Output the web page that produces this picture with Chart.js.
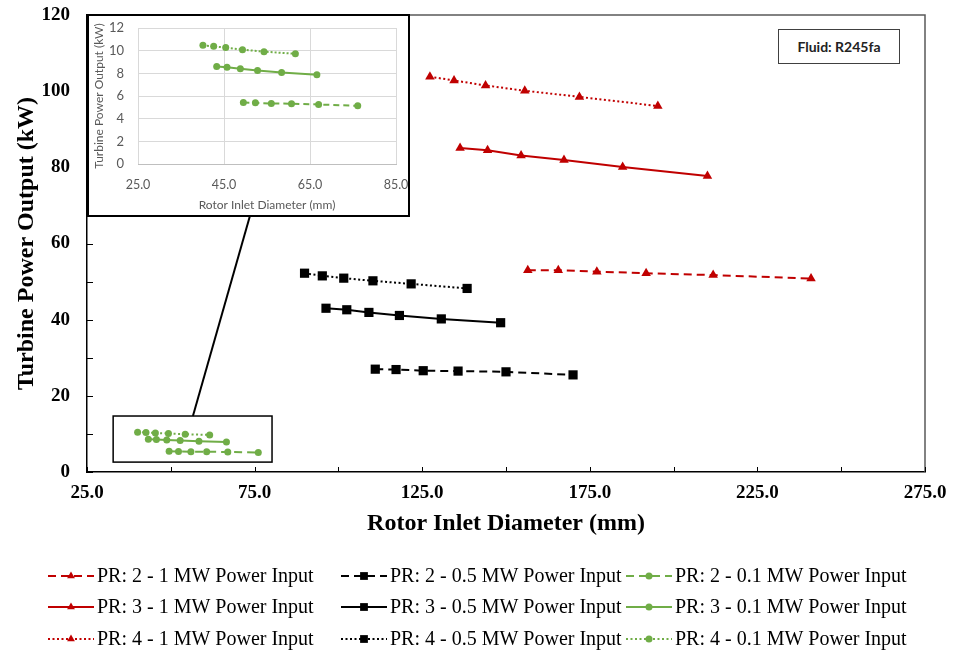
<!DOCTYPE html>
<html>
<head>
<meta charset="utf-8">
<script src="https://cdn.jsdelivr.net/npm/chart.js@4.4.1/dist/chart.umd.min.js"></script>
<style>
  body { margin: 0; background: #fff; }
  #wrap { position: relative; width: 955px; height: 655px; }
  #inset { position: absolute; left: 87px; top: 14px; width: 323px; height: 203px;
           box-sizing: border-box; border: 2px solid #000; background: #fff; }
  #fluid { position: absolute; left: 778px; top: 29px; width: 122px; height: 35px;
           box-sizing: border-box; border: 1.5px solid #404040; background: #fff;
           font: bold 14px Lato, "Open Sans", sans-serif; color: #222;
           display: flex; align-items: center; justify-content: center; }
</style>
</head>
<body>
<div id="wrap">
  <canvas id="mainChart" width="955" height="655"></canvas>
  <div id="inset"><canvas id="insetChart" width="319" height="199"></canvas></div>
  <div id="fluid">Fluid: R245fa</div>
</div>
<script>
// rotor inlet diameter (mm) and turbine power output (kW)
const diaPR2_1MW = [156.5, 165.6, 177.1, 191.8, 211.8, 241.0];
const powPR2_1MW = [53.0, 53.0, 52.6, 52.2, 51.7, 50.8];
const diaPR3_1MW = [136.3, 144.5, 154.5, 167.3, 184.8, 210.1];
const powPR3_1MW = [85.1, 84.5, 83.1, 81.9, 80.1, 77.7];
const diaPR4_1MW = [127.3, 134.5, 143.9, 155.6, 171.9, 195.3];
const powPR4_1MW = [103.8, 102.8, 101.5, 100.1, 98.5, 96.1];

const diaPR2_05MW = [111.0, 117.2, 125.3, 135.7, 150.0, 170.0];
const powPR2_05MW = [27.0, 26.9, 26.6, 26.5, 26.3, 25.5];
const diaPR3_05MW = [96.3, 102.5, 109.1, 118.2, 130.7, 148.4];
const powPR3_05MW = [43.0, 42.6, 41.9, 41.1, 40.2, 39.2];
const diaPR4_05MW = [89.9, 95.2, 101.6, 110.3, 121.7, 138.4];
const powPR4_05MW = [52.2, 51.5, 50.9, 50.2, 49.4, 48.2];

const diaPR2_01MW = [49.5, 52.3, 56.0, 60.7, 67.0, 76.1];
const powPR2_01MW = [5.43, 5.40, 5.34, 5.32, 5.25, 5.13];
const diaPR3_01MW = [43.3, 45.7, 48.8, 52.8, 58.4, 66.6];
const powPR3_01MW = [8.61, 8.53, 8.41, 8.26, 8.08, 7.88];
const diaPR4_01MW = [40.1, 42.6, 45.4, 49.3, 54.3, 61.6];
const powPR4_01MW = [10.47, 10.38, 10.27, 10.09, 9.91, 9.73];

const seriesLabels = [
  'PR: 2 - 1 MW Power Input', 'PR: 2 - 0.5 MW Power Input', 'PR: 2 - 0.1 MW Power Input',
  'PR: 3 - 1 MW Power Input', 'PR: 3 - 0.5 MW Power Input', 'PR: 3 - 0.1 MW Power Input',
  'PR: 4 - 1 MW Power Input', 'PR: 4 - 0.5 MW Power Input', 'PR: 4 - 0.1 MW Power Input'
];

// zoom box around the 0.1 MW cluster, and its leader line to the inset (data units)
const zoomBoxX = [32.8, 80.2];
const zoomBoxY = [2.6, 14.7];
const leaderX = [56.6, 73.6];
const leaderY = [14.7, 67.2];

const RED = '#C00000', BLACK = '#000000', GREEN = '#70AD47';
const DASH = [8, 5], DOT = [2, 2.5];

const pts = (xs, ys) => xs.map((x, i) => ({ x: x, y: ys[i] }));

function series(label, xs, ys, color, dash, shape, radius) {
    return {
        label: label,
        data: pts(xs, ys),
        showLine: true,
        borderColor: color,
        backgroundColor: color,
        borderWidth: 2,
        borderDash: dash,
        pointStyle: shape,
        pointRadius: radius,
        pointBackgroundColor: color,
        pointBorderColor: color,
        pointBorderWidth: 0
    };
}

const mainSets = [
    series(seriesLabels[0], diaPR2_1MW, powPR2_1MW, RED, DASH, 'triangle', 5.5),
    series(seriesLabels[1], diaPR2_05MW, powPR2_05MW, BLACK, DASH, 'rect', 6.5),
    series(seriesLabels[2], diaPR2_01MW, powPR2_01MW, GREEN, DASH, 'circle', 3.5),
    series(seriesLabels[3], diaPR3_1MW, powPR3_1MW, RED, [], 'triangle', 5.5),
    series(seriesLabels[4], diaPR3_05MW, powPR3_05MW, BLACK, [], 'rect', 6.5),
    series(seriesLabels[5], diaPR3_01MW, powPR3_01MW, GREEN, [], 'circle', 3.5),
    series(seriesLabels[6], diaPR4_1MW, powPR4_1MW, RED, DOT, 'triangle', 5.5),
    series(seriesLabels[7], diaPR4_05MW, powPR4_05MW, BLACK, DOT, 'rect', 6.5),
    series(seriesLabels[8], diaPR4_01MW, powPR4_01MW, GREEN, DOT, 'circle', 3.5)
];

function marker(ctx, shape, x, y, r, color) {
    ctx.save();
    ctx.fillStyle = color;
    ctx.setLineDash([]);
    ctx.beginPath();
    if (shape === 'triangle') {
        for (let k = 0; k < 3; k++) {
            const a = k * 2 * Math.PI / 3;
            const px = x + Math.sin(a) * r, py = y - Math.cos(a) * r;
            k === 0 ? ctx.moveTo(px, py) : ctx.lineTo(px, py);
        }
        ctx.closePath();
    } else if (shape === 'rect') {
        const s = r * Math.SQRT1_2;
        ctx.rect(x - s, y - s, 2 * s, 2 * s);
    } else {
        ctx.arc(x, y, r, 0, 2 * Math.PI);
    }
    ctx.fill();
    ctx.restore();
}

// the layout would otherwise reserve room for half a tick label plus padding
const noEdgePadding = s => { s.paddingTop = 0; s.paddingBottom = 0; s.paddingLeft = 0; s.paddingRight = 0; };

const extras = {
    id: 'extras',
    afterDraw(chart) {
        const { ctx, chartArea: a, scales: { x, y } } = chart;
        ctx.save();

        // plot area frame (top + right)
        ctx.strokeStyle = '#595959';
        ctx.lineWidth = 1.5;
        ctx.beginPath();
        ctx.moveTo(a.left, a.top);
        ctx.lineTo(a.right, a.top);
        ctx.lineTo(a.right, a.bottom);
        ctx.stroke();

        // tick marks pointing inwards
        ctx.strokeStyle = '#000';
        ctx.lineWidth = 1;
        x.ticks.forEach(t => {
            const px = Math.round(x.getPixelForValue(t.value)) + 0.5;
            ctx.beginPath();
            ctx.moveTo(px, a.bottom);
            ctx.lineTo(px, a.bottom - 5);
            ctx.stroke();
        });
        y.ticks.forEach(t => {
            const py = Math.round(y.getPixelForValue(t.value)) + 0.5;
            ctx.beginPath();
            ctx.moveTo(a.left, py);
            ctx.lineTo(a.left + 6, py);
            ctx.stroke();
        });

        // zoom box and leader line
        ctx.lineWidth = 1.5;
        const bx0 = x.getPixelForValue(zoomBoxX[0]), bx1 = x.getPixelForValue(zoomBoxX[1]);
        const by0 = y.getPixelForValue(zoomBoxY[1]), by1 = y.getPixelForValue(zoomBoxY[0]);
        ctx.strokeRect(bx0, by0, bx1 - bx0, by1 - by0);
        ctx.lineWidth = 2;
        ctx.beginPath();
        ctx.moveTo(x.getPixelForValue(leaderX[0]), y.getPixelForValue(leaderY[0]));
        ctx.lineTo(x.getPixelForValue(leaderX[1]), y.getPixelForValue(leaderY[1]));
        ctx.stroke();

        // legend, 3 columns x 3 rows
        const cols = [48, 341, 626], rows = [576, 607, 639];
        ctx.font = '20px "Liberation Serif", "Times New Roman", serif';
        ctx.textBaseline = 'middle';
        ctx.textAlign = 'left';
        chart.data.datasets.forEach((ds, i) => {
            const x0 = cols[i % 3], yy = rows[Math.floor(i / 3)];
            ctx.strokeStyle = ds.borderColor;
            ctx.lineWidth = 2;
            ctx.setLineDash(ds.borderDash);
            ctx.beginPath();
            ctx.moveTo(x0, yy);
            ctx.lineTo(x0 + 46, yy);
            ctx.stroke();
            const r = ds.pointStyle === 'circle' ? ds.pointRadius : ds.pointRadius - 1;
            marker(ctx, ds.pointStyle, x0 + 23, yy, r, ds.borderColor);
            ctx.fillStyle = '#000';
            ctx.fillText(ds.label, x0 + 49, yy + 1);
        });
        ctx.restore();
    }
};

const serif = '"Liberation Serif", "Times New Roman", serif';

new Chart(document.getElementById('mainChart'), {
    type: 'scatter',
    data: { datasets: mainSets },
    options: {
        responsive: false,
        animation: false,
        layout: { padding: { left: 0, right: 30, top: 15, bottom: 115 } },
        plugins: { legend: { display: false }, tooltip: { enabled: false } },
        scales: {
            x: {
                min: 25, max: 275,
                ticks: {
                    stepSize: 25, autoSkip: false, maxRotation: 0, padding: 10,
                    color: '#000', font: { family: serif, size: 19, weight: 'bold' },
                    callback: v => ((v - 25) % 50 === 0 ? v.toFixed(1) : '')
                },
                grid: { display: false, drawTicks: false },
                border: { color: '#000', width: 1.5 },
                title: {
                    display: true, text: 'Rotor Inlet Diameter (mm)', color: '#000',
                    font: { family: serif, size: 24, weight: 'bold' }, padding: { top: 0, bottom: 2 }
                },
                afterFit: s => { s.height = 68; noEdgePadding(s); }
            },
            y: {
                min: 0, max: 120,
                ticks: {
                    stepSize: 10, autoSkip: false, padding: 17,
                    color: '#000', font: { family: serif, size: 19, weight: 'bold' },
                    callback: v => (v % 20 === 0 ? v : '')
                },
                grid: { display: false, drawTicks: false },
                border: { color: '#000', width: 1.5 },
                title: {
                    display: true, text: 'Turbine Power Output (kW)', color: '#000',
                    font: { family: serif, size: 24, weight: 'bold' }, padding: { top: 12, bottom: 0 }
                },
                afterFit: s => { s.width = 87; noEdgePadding(s); }
            }
        }
    },
    plugins: [extras]
});

// inset: the 0.1 MW series on their own scale
const insetFont = 'Lato, "Open Sans", sans-serif';
const insetSets = [2, 5, 8].map(i => Object.assign({}, mainSets[i], {
    data: mainSets[i].data.map(p => ({ x: p.x, y: p.y })),
    pointRadius: 3.5,
    borderDash: mainSets[i].borderDash.length === 0 ? [] : (i === 2 ? [6, 4] : [2, 2])
}));

new Chart(document.getElementById('insetChart'), {
    type: 'scatter',
    data: { datasets: insetSets },
    options: {
        responsive: false,
        animation: false,
        layout: { padding: { left: 0, right: 12, top: 12, bottom: 0 } },
        plugins: { legend: { display: false }, tooltip: { enabled: false } },
        scales: {
            x: {
                min: 25, max: 85,
                ticks: {
                    stepSize: 20, maxRotation: 0, padding: 13, color: '#595959',
                    font: { family: insetFont, size: 12.5 }, callback: v => v.toFixed(1)
                },
                grid: { color: '#D9D9D9', drawTicks: false },
                border: { color: '#BFBFBF' },
                title: {
                    display: true, text: 'Rotor Inlet Diameter (mm)', color: '#595959',
                    font: { family: insetFont, size: 12 }, padding: { top: 0, bottom: 3 }
                },
                afterFit: s => { s.height = 51; noEdgePadding(s); }
            },
            y: {
                min: 0, max: 12,
                ticks: {
                    stepSize: 2, padding: 14, color: '#595959',
                    font: { family: insetFont, size: 13 }
                },
                grid: { color: '#D9D9D9', drawTicks: false },
                border: { display: false },
                title: {
                    display: true, text: 'Turbine Power Output (kW)', color: '#595959',
                    font: { family: insetFont, size: 12 }, padding: { top: 3, bottom: 0 }
                },
                afterFit: s => { s.width = 49; noEdgePadding(s); }
            }
        }
    }
});
</script>
</body>
</html>
